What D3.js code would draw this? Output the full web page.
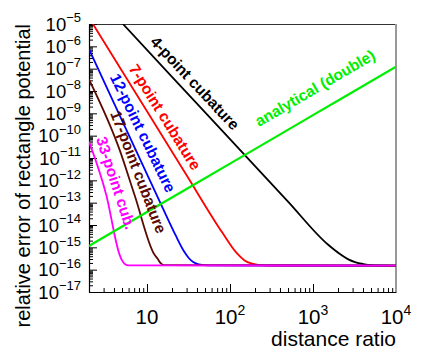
<!DOCTYPE html>
<html>
<head>
<meta charset="utf-8">
<script src="https://cdn.jsdelivr.net/npm/d3@7"></script>
<style>
body { margin: 0; background: #fff; }
svg { display: block; font-family: "Liberation Sans", Arial, Helvetica, sans-serif; }
</style>
</head>
<body>
<div class="canva"></div>
<script>
// axis ranges and tick labels
const ratioRange = [2, 1e4];
const errorRange = [1e-17, 1e-5];
const xTickExps = [1, 2, 3, 4];
const yTickExps = [-5, -6, -7, -8, -9, -10, -11, -12, -13, -14, -15, -16, -17];

// series (distance ratio, relative error)
const ratio4 = [5.13, 20, 100, 500, 1500, 2200, 2700, 3200, 4000, 5000, 10000];
const err4 = [1e-5, 4.33e-8, 6.93e-11, 1.11e-13, 1.37e-15, 4.5e-16, 2.8e-16, 2.2e-16, 1.8e-16, 1.6e-16, 1.53e-16];

const ratio7 = [2.23, 5, 10, 30, 80, 120, 150, 180, 220, 300, 10000];
const err7 = [1e-5, 7.85e-8, 1.23e-9, 1.69e-12, 4.8e-15, 5.6e-16, 2.6e-16, 1.9e-16, 1.64e-16, 1.54e-16, 1.53e-16];

const ratio12 = [2, 4, 8, 15, 22, 28, 32, 36, 42, 55, 10000];
const err12 = [7.4e-7, 2.89e-9, 1.13e-11, 7.4e-14, 3.6e-15, 6.5e-16, 3.25e-16, 2.2e-16, 1.73e-16, 1.55e-16, 1.53e-16];

const ratio17 = [2, 4.68, 7.08, 12.33, 13.5, 14.5, 16, 10000];
const err17 = [3.3e-8, 2.3e-11, 2.2e-13, 4.6e-16, 3.0e-16, 2.0e-16, 1.6e-16, 1.53e-16];

const ratio33 = [2, 3.23, 4.68, 5.0, 5.4, 6, 10000];
const err33 = [5.4e-11, 2.2e-13, 4.6e-16, 2.6e-16, 1.8e-16, 1.56e-16, 1.53e-16];

const ratioAn = [2, 10, 100, 1000, 10000];
const errAn = [1.15e-15, 3.8e-14, 5.6e-12, 8.3e-10, 1.23e-7];

const W = 445, H = 352;
const margin = {top: 24, right: 49, bottom: 60, left: 89};

const svg = d3.select('.canva').append('svg')
  .attr('width', W)
  .attr('height', H);

const x = d3.scaleLog().domain(ratioRange).range([margin.left, W - margin.right]);
const y = d3.scaleLog().domain(errorRange).range([H - margin.bottom, margin.top]);

svg.append('clipPath').attr('id', 'plotclip')
  .append('rect')
  .attr('x', margin.left).attr('y', margin.top)
  .attr('width', W - margin.left - margin.right)
  .attr('height', H - margin.top - margin.bottom);

// minor ticks 2..9 in every decade
function minorTicks(lo, hi) {
  const out = [];
  for (let e = Math.floor(Math.log10(lo)); e < Math.ceil(Math.log10(hi)); e++) {
    for (let m = 2; m <= 9; m++) {
      const v = m * Math.pow(10, e);
      if (v > lo && v < hi) out.push(v);
    }
  }
  return out;
}

const xMajor = xTickExps.map(e => Math.pow(10, e));
const yMajor = yTickExps.map(e => Math.pow(10, e));

// frame top / right
svg.append('line')
  .attr('x1', x.range()[0]).attr('x2', x.range()[1])
  .attr('y1', margin.top + 0.5).attr('y2', margin.top + 0.5)
  .attr('stroke', '#333').attr('stroke-width', 1);
svg.append('line')
  .attr('x1', x.range()[1]).attr('x2', x.range()[1])
  .attr('y1', margin.top).attr('y2', H - margin.bottom)
  .attr('stroke', '#999').attr('stroke-width', 2);

// y axis
svg.append('g')
  .attr('transform', `translate(${margin.left},0)`)
  .call(d3.axisLeft(y).tickValues(minorTicks(...errorRange)).tickSize(-4).tickSizeOuter(0).tickFormat(''))
  .call(g => g.select('.domain').remove());
svg.append('g')
  .attr('transform', `translate(${margin.left},0)`)
  .call(d3.axisLeft(y).tickValues(yMajor).tickSize(-8).tickSizeOuter(0).tickFormat(''))
  .call(g => g.select('.domain').attr('stroke-width', 1.2));

// x axis
svg.append('g')
  .attr('transform', `translate(0,${H - margin.bottom})`)
  .call(d3.axisBottom(x).tickValues(minorTicks(...ratioRange)).tickSize(-4).tickSizeOuter(0).tickFormat(''))
  .call(g => g.select('.domain').remove());
svg.append('g')
  .attr('transform', `translate(0,${H - margin.bottom})`)
  .call(d3.axisBottom(x).tickValues(xMajor.filter(v => v < ratioRange[1])).tickSize(-8).tickSizeOuter(0).tickFormat(''))
  .call(g => g.select('.domain').attr('stroke-width', 1.2));

svg.selectAll('.tick line').attr('stroke', '#000');

// y tick labels 10^-n
svg.append('g').selectAll('text')
  .data(yTickExps)
  .enter()
  .append('text')
  .attr('x', margin.left - 8)
  .attr('y', d => y(Math.pow(10, d)) + 6.7)
  .attr('text-anchor', 'end')
  .attr('font-size', 18.5)
  .attr('fill', '#000')
  .each(function(d) {
    const t = d3.select(this);
    t.append('tspan').text('10');
    t.append('tspan').attr('dy', -8.5).attr('font-size', 13).text('\u2212' + Math.abs(d));
  });

// x tick labels
svg.append('g').selectAll('text')
  .data(xTickExps)
  .enter()
  .append('text')
  .attr('x', d => x(Math.pow(10, d)))
  .attr('y', H - margin.bottom + 32)
  .attr('text-anchor', 'middle')
  .attr('font-size', 20.5)
  .attr('fill', '#000')
  .each(function(d) {
    const t = d3.select(this);
    t.append('tspan').text('10');
    if (d !== 1) t.append('tspan').attr('dy', -9).attr('font-size', 14).text(d);
  });

// axis titles
svg.append('text')
  .attr('x', x.range()[1])
  .attr('y', 346)
  .attr('text-anchor', 'end')
  .attr('font-size', 21)
  .text('distance ratio');

svg.append('text')
  .attr('transform', `translate(30,${margin.top}) rotate(-90)`)
  .attr('text-anchor', 'end')
  .attr('font-size', 20)
  .text('relative error of rectangle potential');

// curves
const line = d3.line()
  .x(d => x(d[0]))
  .y(d => y(d[1]))
  .curve(d3.curveMonotoneX);

const series = [
  {xs: ratio4, ys: err4, color: '#000000', w: 1.8},
  {xs: ratio7, ys: err7, color: '#ff0000', w: 1.8},
  {xs: ratio12, ys: err12, color: '#0000ff', w: 1.8},
  {xs: ratio17, ys: err17, color: '#5a0a00', w: 1.8},
  {xs: ratio33, ys: err33, color: '#ff00ff', w: 1.8},
  {xs: ratioAn, ys: errAn, color: '#00ee00', w: 2.2}
];

svg.append('g')
  .attr('clip-path', 'url(#plotclip)')
  .selectAll('path')
  .data(series)
  .enter()
  .append('path')
  .attr('d', d => line(d.xs.map((v, i) => [v, d.ys[i]])))
  .attr('fill', 'none')
  .attr('stroke', d => d.color)
  .attr('stroke-width', d => d.w)
  .attr('stroke-linejoin', 'round');

// labels along the curves
const labels = [
  {text: '4-point cubature', color: '#000000', cx: 195, cy: 83, angle: 46.8},
  {text: '7-point cubature', color: '#ff0000', cx: 165, cy: 117, angle: 58},
  {text: '12-point cubature', color: '#0000ff', cx: 143, cy: 133, angle: 64},
  {text: '17-point cubature', color: '#5a0a00', cx: 138.5, cy: 172, angle: 69},
  {text: '33-point cub.', color: '#ff00ff', cx: 116, cy: 183, angle: 72},
  {text: 'analytical (double)', color: '#00ee00', cx: 315, cy: 88, angle: -30.4}
];

svg.append('g').selectAll('text')
  .data(labels)
  .enter()
  .append('text')
  .attr('transform', d => `translate(${d.cx},${d.cy}) rotate(${d.angle})`)
  .attr('text-anchor', 'middle')
  .attr('dy', '0.35em')
  .attr('font-size', 15.5)
  .attr('font-weight', 'bold')
  .attr('fill', d => d.color)
  .text(d => d.text);
</script>
</body>
</html>
